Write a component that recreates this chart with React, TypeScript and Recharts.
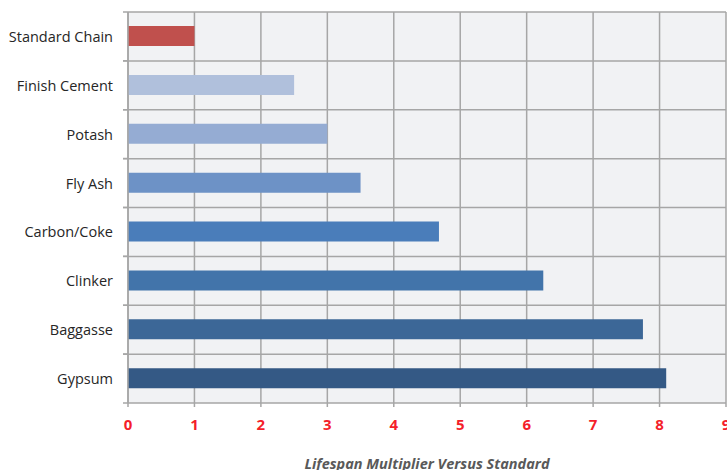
import { BarChart, Bar, XAxis, YAxis, CartesianGrid, Cell } from 'recharts'

const categories = [
  'Standard Chain',
  'Finish Cement',
  'Potash',
  'Fly Ash',
  'Carbon/Coke',
  'Clinker',
  'Baggasse',
  'Gypsum',
]
const multipliers = [1, 2.5, 3, 3.5, 4.68, 6.25, 7.75, 8.1]
const barColors = [
  '#c0504d',
  '#b0c0dc',
  '#95acd3',
  '#6d92c6',
  '#4a7dba',
  '#4274aa',
  '#3c6797',
  '#345985',
]
const xTicks = [0, 1, 2, 3, 4, 5, 6, 7, 8, 9]

const data = categories.map((name, i) => ({ name, value: multipliers[i] }))

const GRID = '#a6a6a6'
const FONT = '"Open Sans"'

// category label plus Excel-style tick marks on the band edges
const CategoryTick = ({ x, y, payload }: any) => {
  const half = payload.offset || 0
  return (
    <g>
      <line x1={x + 10} x2={x + 15} y1={y - half} y2={y - half} stroke={GRID} strokeWidth={1.5} />
      <line x1={x + 10} x2={x + 15} y1={y + half} y2={y + half} stroke={GRID} strokeWidth={1.5} />
      <text x={x} y={y} dy={5.5} textAnchor="end" fill="#262626" fontSize={14.5} fontFamily={FONT}>
        {payload.value}
      </text>
    </g>
  )
}

export default function App() {
  return (
    <div style={{ position: 'absolute', left: 0, top: 0, width: 727, height: 470, background: '#fff' }}>
      <BarChart
        width={727}
        height={470}
        data={data}
        layout="vertical"
        margin={{ top: 12, right: 1, left: 0, bottom: 0 }}
        barSize={20}
      >
        <CartesianGrid
          fill="#f1f2f4"
          stroke={GRID}
          strokeWidth={1.5}
          horizontalCoordinatesGenerator={({ offset }: any) =>
            categories.map((_, i) => offset.top + (i * offset.height) / categories.length)
          }
        />
        <XAxis
          type="number"
          domain={[0, 9]}
          ticks={xTicks}
          interval={0}
          height={67}
          axisLine={{ stroke: GRID, strokeWidth: 1.5 }}
          tickLine={{ stroke: GRID, strokeWidth: 1.5 }}
          tickSize={4}
          tickMargin={12}
          tick={{ fill: '#f41e2a', fontSize: 15, fontWeight: 700, fontFamily: FONT }}
          label={{
            value: 'Lifespan Multiplier Versus Standard',
            position: 'insideBottom',
            offset: 1,
            fill: '#595959',
            fontSize: 14.5,
            fontWeight: 700,
            fontStyle: 'italic',
            fontFamily: FONT,
          }}
        />
        <YAxis
          type="category"
          dataKey="name"
          width={128}
          axisLine={{ stroke: GRID, strokeWidth: 1.5 }}
          tickLine={false}
          tickMargin={0}
          tickSize={15}
          tick={<CategoryTick />}
        />
        <Bar dataKey="value" isAnimationActive={false}>
          {data.map((d, i) => (
            <Cell key={d.name} fill={barColors[i]} />
          ))}
        </Bar>
      </BarChart>
    </div>
  )
}
